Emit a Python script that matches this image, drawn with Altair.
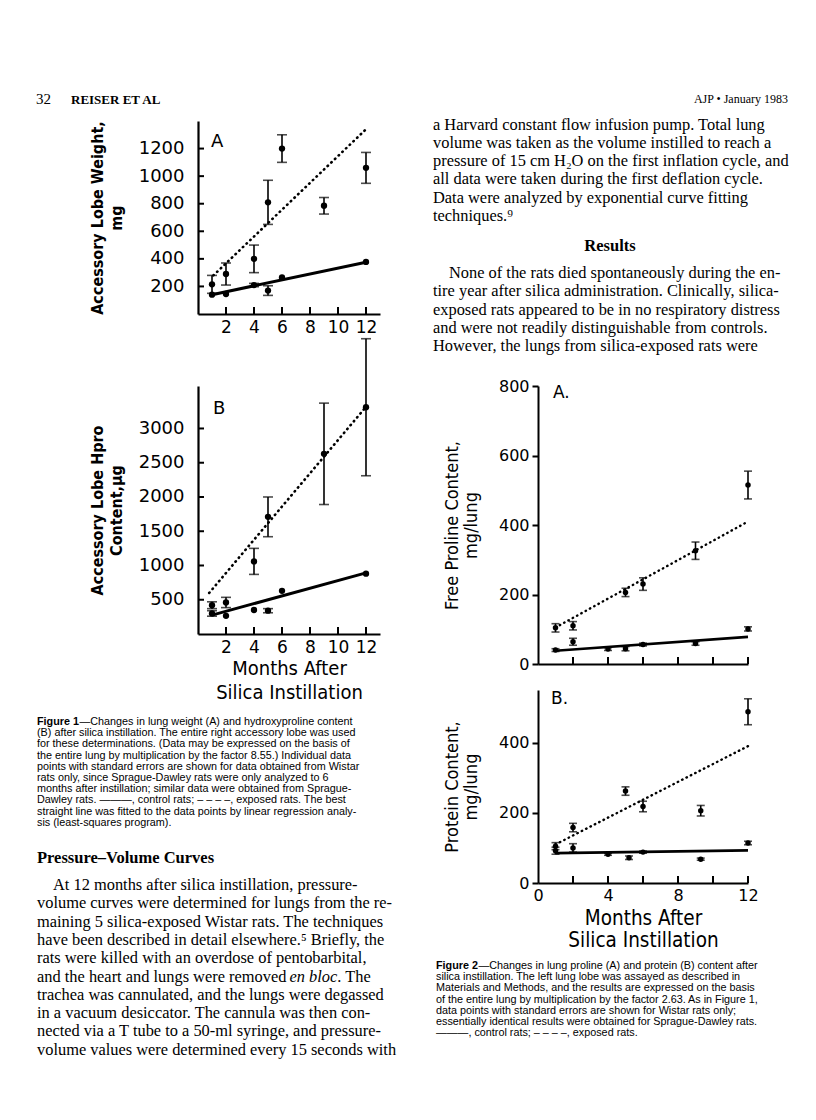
import altair as alt
import pandas as pd

# ---------------- data ----------------
# Figure 1A  accessory lobe weight (mg)
f1a_exp_month = [1, 2, 4, 5, 6, 9, 12]
f1a_exp_mean = [215, 290, 400, 810, 1200, 785, 1060]
f1a_exp_se = [65, 80, 100, 160, 100, 60, 112]
f1a_ctl_month = [1, 2, 4, 5, 6, 12]
f1a_ctl_mean = [140, 145, 210, 170, 265, 378]
f1a_ctl_se = [0, 0, 12, 35, 0, 0]
f1a_fit_exp_month = [1.1, 12]
f1a_fit_exp = [280, 1340]
f1a_fit_ctl_month = [1, 12]
f1a_fit_ctl = [140, 376]
f1a_yticks = [200, 400, 600, 800, 1000, 1200]
f1_xticks = [2, 4, 6, 8, 10, 12]

# Figure 1B  accessory lobe hydroxyproline (ug)
f1b_exp_month = [1, 2, 4, 5, 9, 12]
f1b_exp_mean = [420, 460, 1060, 1710, 2630, 3310]
f1b_exp_se = [50, 75, 190, 290, 740, 1000]
f1b_ctl_month = [1, 2, 4, 5, 6, 12]
f1b_ctl_mean = [300, 265, 350, 340, 630, 880]
f1b_ctl_se = [40, 0, 0, 30, 0, 0]
f1b_fit_exp_month = [0.8, 12]
f1b_fit_exp = [600, 3316]
f1b_fit_ctl_month = [1, 12]
f1b_fit_ctl = [275, 893]
f1b_yticks = [500, 1000, 1500, 2000, 2500, 3000]

# Figure 2A  free proline (mg/lung)
f2a_exp_month = [1, 2, 5, 6, 9, 12]
f2a_exp_mean = [104, 110, 206, 230, 326, 515]
f2a_exp_se = [12, 12, 12, 18, 25, 40]
f2a_ctl_month = [1, 2, 4, 5, 6, 9, 12]
f2a_ctl_mean = [40, 64, 43, 44, 56, 59, 101]
f2a_ctl_se = [4, 10, 4, 6, 4, 5, 6]
f2a_fit_exp_month = [1, 12]
f2a_fit_exp = [105, 410]
f2a_fit_ctl_month = [1, 12]
f2a_fit_ctl = [38, 78]
f2a_yticks = [0, 200, 400, 600, 800]

# Figure 2B  protein (mg/lung)
f2b_exp_month = [1, 2, 5, 6, 9.3, 12]
f2b_exp_mean = [105, 158, 262, 218, 206, 488]
f2b_exp_se = [10, 12, 12, 15, 15, 37]
f2b_ctl_month = [1, 2, 4, 5.2, 6, 9.3, 12]
f2b_ctl_mean = [92, 100, 82, 72, 88, 68, 114]
f2b_ctl_se = [10, 12, 3, 5, 3, 3, 5]
f2b_fit_exp_month = [1, 12]
f2b_fit_exp = [110, 390]
f2b_fit_ctl_month = [1, 12]
f2b_fit_ctl = [85, 93]
f2b_yticks = [0, 200, 400]
f2_xticks = [2, 4, 6, 8, 10, 12]
f2b_xlabels = [0, 4, 8, 12]

# ---------------- page text ----------------
right_p1 = [
    "a Harvard constant flow infusion pump. Total lung",
    "volume was taken as the volume instilled to reach a",
    "pressure of 15 cm H\u2082O on the first inflation cycle, and",
    "all data were taken during the first deflation cycle.",
    "Data were analyzed by exponential curve fitting",
    "techniques.\u2079",
]
right_p2_first = "None of the rats died spontaneously during the en-"
right_p2 = [
    "tire year after silica administration. Clinically, silica-",
    "exposed rats appeared to be in no respiratory distress",
    "and were not readily distinguishable from controls.",
    "However, the lungs from silica-exposed rats were",
]
fig1_caption_first = "\u2014Changes in lung weight (A) and hydroxyproline content"
fig1_caption = [
    "(B) after silica instillation. The entire right accessory lobe was used",
    "for these determinations. (Data may be expressed on the basis of",
    "the entire lung by multiplication by the factor 8.55.) Individual data",
    "points with standard errors are shown for data obtained from Wistar",
    "rats only, since Sprague-Dawley rats were only analyzed to 6",
    "months after instillation; similar data were obtained from Sprague-",
    "Dawley rats. \u2014\u2014\u2014, control rats; \u2013 \u2013 \u2013 \u2013, exposed rats. The best",
    "straight line was fitted to the data points by linear regression analy-",
    "sis (least-squares program).",
]
left_p_first = "At 12 months after silica instillation, pressure-"
left_p_a = [
    "volume curves were determined for lungs from the re-",
    "maining 5 silica-exposed Wistar rats. The techniques",
    "have been described in detail elsewhere.\u2075 Briefly, the",
    "rats were killed with an overdose of pentobarbital,",
]
left_p_italic_line = ["and the heart and lungs were removed", "en bloc", ". The"]
left_p_b = [
    "trachea was cannulated, and the lungs were degassed",
    "in a vacuum desiccator. The cannula was then con-",
    "nected via a T tube to a 50-ml syringe, and pressure-",
    "volume values were determined every 15 seconds with",
]
fig2_caption_first = "\u2014Changes in lung proline (A) and protein (B) content after"
fig2_caption = [
    "silica instillation. The left lung lobe was assayed as described in",
    "Materials and Methods, and the results are expressed on the basis",
    "of the entire lung by multiplication by the factor 2.63. As in Figure 1,",
    "data points with standard errors are shown for Wistar rats only;",
    "essentially identical results were obtained for Sprague-Dawley rats.",
    "\u2014\u2014\u2014, control rats; \u2013 \u2013 \u2013 \u2013, exposed rats.",
]

SERIF = "Liberation Serif, Times New Roman, serif"
SANS = "Liberation Sans, Arial, sans-serif"
NUM = "DejaVu Sans, Verdana, sans-serif"
NARROW = "DejaVu Sans Condensed, Liberation Sans Narrow, Roboto Condensed, Arial Narrow, sans-serif"

EMPTY = alt.Data(values=[{}])


def tb(lines, x, y, size, font, weight="normal", align="left", lh=None, style="normal"):
    kw = dict(text="\n".join(lines), lineBreak="\n", align=align, baseline="alphabetic",
              font=font, fontSize=size, fontWeight=weight, fontStyle=style, color="black")
    if lh is not None:
        kw["lineHeight"] = lh
    return alt.Chart(EMPTY).mark_text(**kw).encode(x=alt.value(x - 8), y=alt.value(y - 8))


def panel(exp_m, exp_v, exp_se, ctl_m, ctl_v, ctl_se, fe_m, fe_v, fc_m, fc_v,
          xdom, ydom, w, h, xaxis, yaxis, xticks_in, yticks_in, st, letter):
    pts = pd.DataFrame({"month": exp_m + ctl_m, "value": exp_v + ctl_v, "se": exp_se + ctl_se})
    pts["lo"] = pts["value"] - pts["se"]
    pts["hi"] = pts["value"] + pts["se"]
    err = pts[pts["se"] > 0]
    fit_e = pd.DataFrame({"month": fe_m, "value": fe_v})
    fit_c = pd.DataFrame({"month": fc_m, "value": fc_v})
    xs = alt.Scale(domain=xdom, nice=False, zero=False)
    ys = alt.Scale(domain=ydom, nice=False, zero=False)

    def X(f):
        return alt.X(f, type="quantitative", scale=xs, axis=xaxis)

    def Y(f):
        return alt.Y(f, type="quantitative", scale=ys, axis=yaxis)

    layers = [
        alt.Chart(fit_c).mark_line(color="black", strokeWidth=st["lw"]).encode(x=X("month"), y=Y("value")),
        alt.Chart(fit_e).mark_line(color="black", strokeWidth=st["dw"], strokeDash=[0.5, st["gap"]],
                                   strokeCap="round").encode(x=X("month"), y=Y("value")),
        alt.Chart(err).mark_rule(color="black", strokeWidth=1.6).encode(x=X("month"), y=Y("lo"), y2="hi"),
        alt.Chart(err).mark_tick(orient="horizontal", color="black", size=st["cap"], thickness=1.6).encode(
            x=X("month"), y=Y("lo")),
        alt.Chart(err).mark_tick(orient="horizontal", color="black", size=st["cap"], thickness=1.6).encode(
            x=X("month"), y=Y("hi")),
        alt.Chart(pts).mark_circle(color="black", opacity=1, size=st["dot"]).encode(x=X("month"), y=Y("value")),
        alt.Chart(pd.DataFrame({"t": xticks_in})).mark_rule(color="black", strokeWidth=2).encode(
            x=X("t"), y=alt.value(h), y2=alt.value(h - 7)),
    ]
    if yticks_in:
        layers.append(alt.Chart(pd.DataFrame({"t": yticks_in})).mark_rule(color="black", strokeWidth=2).encode(
            y=Y("t"), x=alt.value(0), x2=alt.value(6)))
    layers.append(alt.Chart(EMPTY).mark_text(text=letter[0], align="left", baseline="middle", font=NUM,
                                             fontSize=letter[3], color="black").encode(
        x=alt.value(letter[1]), y=alt.value(letter[2])))
    return alt.layer(*layers).properties(width=w, height=h)


def fig1_x(title=None):
    kw = dict(values=f1_xticks, format="d", ticks=False, tickSize=0, domainColor="black", domainWidth=2.2,
              labelFont=NUM, labelFontSize=17, labelColor="black", labelPadding=5, grid=False,
              labelFlush=False, title=title)
    if title:
        kw.update(titleFont=NARROW, titleFontSize=20, titleFontWeight="normal", titleColor="black",
                  titleLineHeight=24, titlePadding=3)
    return alt.Axis(**kw)


def fig1_y(vals, title):
    return alt.Axis(values=vals, format="d", ticks=False, tickSize=0, domainColor="black", domainWidth=2.2,
                    labelFont=NUM, labelFontSize=18, labelColor="black", labelPadding=14, grid=False,
                    title=title, titleFont=NARROW, titleFontSize=16, titleFontWeight="bold",
                    titleColor="black", titleLineHeight=19, titlePadding=14)


def fig2_y(vals, title):
    return alt.Axis(values=vals, format="d", ticks=True, tickSize=6, tickWidth=2, tickColor="black",
                    domainColor="black", domainWidth=2, labelFont=NUM, labelFontSize=16,
                    labelColor="black", labelPadding=3, grid=False, title=title, titleFont=NARROW,
                    titleFontSize=18, titleFontWeight="normal", titleColor="black",
                    titleLineHeight=19, titlePadding=18)


st1 = dict(lw=3, dw=2.6, gap=4.6, cap=10, dot=40)
st2 = dict(lw=2.6, dw=2.4, gap=4.4, cap=8, dot=30)

fig1a = panel(f1a_exp_month, f1a_exp_mean, f1a_exp_se, f1a_ctl_month, f1a_ctl_mean, f1a_ctl_se,
              f1a_fit_exp_month, f1a_fit_exp, f1a_fit_ctl_month, f1a_fit_ctl,
              [0, 13], [0, 1400], 182, 193, fig1_x(),
              fig1_y(f1a_yticks, ["Accessory Lobe Weight,", "mg"]), f1_xticks, f1a_yticks, st1,
              ("A", 13, 21, 18))
fig1b = panel(f1b_exp_month, f1b_exp_mean, f1b_exp_se, f1b_ctl_month, f1b_ctl_mean, f1b_ctl_se,
              f1b_fit_exp_month, f1b_fit_exp, f1b_fit_ctl_month, f1b_fit_ctl,
              [0, 13], [0, 3620], 182, 248, fig1_x(["Months After", "Silica Instillation"]),
              fig1_y(f1b_yticks, ["Accessory Lobe Hpro", "Content,\u00b5g"]), f1_xticks, f1b_yticks, st1,
              ("B", 15, 23, 18))
fig2a = panel(f2a_exp_month, f2a_exp_mean, f2a_exp_se, f2a_ctl_month, f2a_ctl_mean, f2a_ctl_se,
              f2a_fit_exp_month, f2a_fit_exp, f2a_fit_ctl_month, f2a_fit_ctl,
              [0, 12], [0, 800], 210, 278,
              alt.Axis(values=f2_xticks, labels=False, ticks=False, tickSize=0, domainColor="black",
                       domainWidth=2, grid=False, title=None),
              fig2_y(f2a_yticks, ["Free Proline Content,", "mg/lung"]), f2_xticks, None, st2,
              ("A.", 15, 7, 17))
fig2b = panel(f2b_exp_month, f2b_exp_mean, f2b_exp_se, f2b_ctl_month, f2b_ctl_mean, f2b_ctl_se,
              f2b_fit_exp_month, f2b_fit_exp, f2b_fit_ctl_month, f2b_fit_ctl,
              [0, 12], [0, 550], 210, 193,
              alt.Axis(values=f2b_xlabels, format="d", ticks=False, tickSize=0, domainColor="black",
                       domainWidth=2, labelFont=NUM, labelFontSize=16, labelColor="black", labelPadding=4,
                       labelFlush=False, grid=False, title=["Months After", "Silica Instillation"],
                       titleFont=NARROW, titleFontSize=20.5, titleFontWeight="normal", titleColor="black",
                       titleLineHeight=22, titlePadding=5),
              fig2_y(f2b_yticks, ["Protein Content,", "mg/lung"]), f2_xticks, None, st2,
              ("B.", 13, 9, 17))

BODY = 16.4
LH = 18.3
CAP = 10.8
CLH = 11.2
LX = 34
Y_LEFT = 887
text_chart = alt.layer(
    tb(["32"], 33, 101, 15, SERIF),
    tb(["REISER ET AL"], 68, 101, 13, SERIF, weight="bold"),
    tb(["AJP \u2022 January 1983"], 785, 100, 12, SERIF, align="right"),
    tb(right_p1, 430, 126.5, BODY, SERIF, lh=LH),
    tb(["Results"], 607, 248, 16.5, SERIF, weight="bold", align="center"),
    tb([right_p2_first], 446, 275, BODY, SERIF),
    tb(right_p2, 430, 275 + LH, BODY, SERIF, lh=LH),
    tb(["Figure 1"], LX, 722, CAP, SANS, weight="bold"),
    tb([fig1_caption_first], LX + 42.5, 722, CAP, SANS),
    tb(fig1_caption, LX, 722 + CLH, CAP, SANS, lh=CLH),
    tb(["Pressure\u2013Volume Curves"], LX, 860, 16.5, SERIF, weight="bold"),
    tb([left_p_first], LX + 16, Y_LEFT, BODY, SERIF),
    tb(left_p_a, LX, Y_LEFT + LH, BODY, SERIF, lh=LH),
    tb([left_p_italic_line[0]], LX, Y_LEFT + 5 * LH, BODY, SERIF),
    tb([left_p_italic_line[1]], LX + 252.5, Y_LEFT + 5 * LH, BODY, SERIF, style="italic"),
    tb([left_p_italic_line[2]], LX + 252.5 + 47.8, Y_LEFT + 5 * LH, BODY, SERIF),
    tb(left_p_b, LX, Y_LEFT + 6 * LH, BODY, SERIF, lh=LH),
    tb(["Figure 2"], 433, 966, CAP, SANS, weight="bold"),
    tb([fig2_caption_first], 433 + 42.5, 966, CAP, SANS),
    tb(fig2_caption, 433, 966 + CLH, CAP, SANS, lh=CLH),
).properties(width=187, height=110)


def spacer(w, h):
    return alt.Chart(EMPTY).mark_point(opacity=0).encode(x=alt.value(0), y=alt.value(0)).properties(
        width=w, height=h)


cols_w = [187, 182, 158, 210]
rows_h = [110, 193, 72, 278, 26, 193]
placed = {(0, 0): text_chart, (1, 1): fig1a, (3, 1): fig1b, (3, 3): fig2a, (5, 3): fig2b}
cells = []
for r in range(len(rows_h)):
    for c in range(len(cols_w)):
        cells.append(placed.get((r, c), spacer(cols_w[c], rows_h[r])))

chart = alt.concat(*cells, columns=4, spacing=0, bounds="flush", align="each").properties(
    padding=0, background="white"
).configure_view(stroke=None)

chart.save("out.html", embed_options={"renderer": "svg", "actions": False})
